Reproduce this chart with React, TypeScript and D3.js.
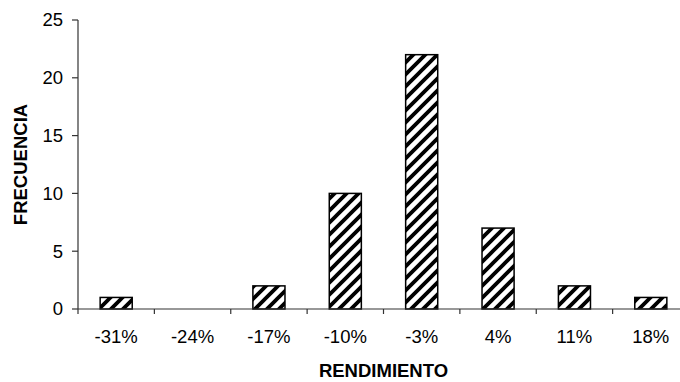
import React from "react";
import * as d3 from "d3";

const categories = ["-31%", "-24%", "-17%", "-10%", "-3%", "4%", "11%", "18%"];
const frequencies = [1, 0, 2, 10, 22, 7, 2, 1];
const yTicks = [0, 5, 10, 15, 20, 25];

const W = 680;
const H = 382;
const margin = { left: 78, right: -9, top: 20, bottom: 73 };
const FONT = "'Liberation Sans', Arial, Helvetica, sans-serif";
const FS = 18.5;

export default function App() {
  const innerW = W - margin.left - margin.right;
  const x = d3.scaleBand<string>().domain(categories).range([margin.left, margin.left + innerW]).paddingInner(0.58).paddingOuter(0.29);
  const band = d3.scaleBand<string>().domain(categories).range([margin.left, margin.left + innerW]);
  const y = d3.scaleLinear().domain([0, 25]).range([H - margin.bottom, margin.top]);
  const y0 = y(0);
  const bounds = categories.map((c) => band(c) as number).concat([margin.left + innerW]);

  return (
    <svg width={W} height={H} style={{ position: "absolute", left: 0, top: 0, background: "#fff" }}>
      <defs>
        <pattern id="hatch" patternUnits="userSpaceOnUse" width={12} height={12}>
          <rect width={12} height={12} fill="#fff" />
          <path d="M-3,3 L3,-3 M0,12 L12,0 M9,15 L15,9" stroke="#000" strokeWidth={3.8} />
        </pattern>
      </defs>
      {categories.map((c, i) =>
        frequencies[i] > 0 ? (
          <rect
            key={c}
            x={x(c)}
            y={y(frequencies[i])}
            width={x.bandwidth()}
            height={y0 - y(frequencies[i])}
            fill="url(#hatch)"
            stroke="#000"
            strokeWidth={1.5}
          />
        ) : null
      )}
      {/* y axis */}
      <line x1={margin.left} x2={margin.left} y1={y(25)} y2={y0} stroke="#333" strokeWidth={1.2} />
      {yTicks.map((t) => (
        <g key={t}>
          <line x1={margin.left - 6} x2={margin.left} y1={y(t)} y2={y(t)} stroke="#333" strokeWidth={1.2} />
          <text x={margin.left - 15} y={y(t)} dy="0.35em" textAnchor="end" fontFamily={FONT} fontSize={FS} fill="#000">
            {t}
          </text>
        </g>
      ))}
      {/* x axis */}
      <line x1={margin.left} x2={margin.left + innerW} y1={y0} y2={y0} stroke="#333" strokeWidth={1.2} />
      {bounds.map((b, i) => (
        <line key={i} x1={b} x2={b} y1={y0} y2={y0 + 5} stroke="#333" strokeWidth={1.2} />
      ))}
      {categories.map((c) => (
        <text key={c} x={(band(c) as number) + band.bandwidth() / 2} y={343} textAnchor="middle" fontFamily={FONT} fontSize={FS} fill="#000">
          {c}
        </text>
      ))}
      <text x={margin.left + innerW / 2} y={376.5} textAnchor="middle" fontFamily={FONT} fontSize={FS} fontWeight="bold" fill="#000">
        RENDIMIENTO
      </text>
      <text
        transform={`translate(26.5, ${(y(25) + y0) / 2}) rotate(-90)`}
        textAnchor="middle"
        fontFamily={FONT}
        fontSize={FS}
        fontWeight="bold"
        fill="#000"
      >
        FRECUENCIA
      </text>
    </svg>
  );
}
